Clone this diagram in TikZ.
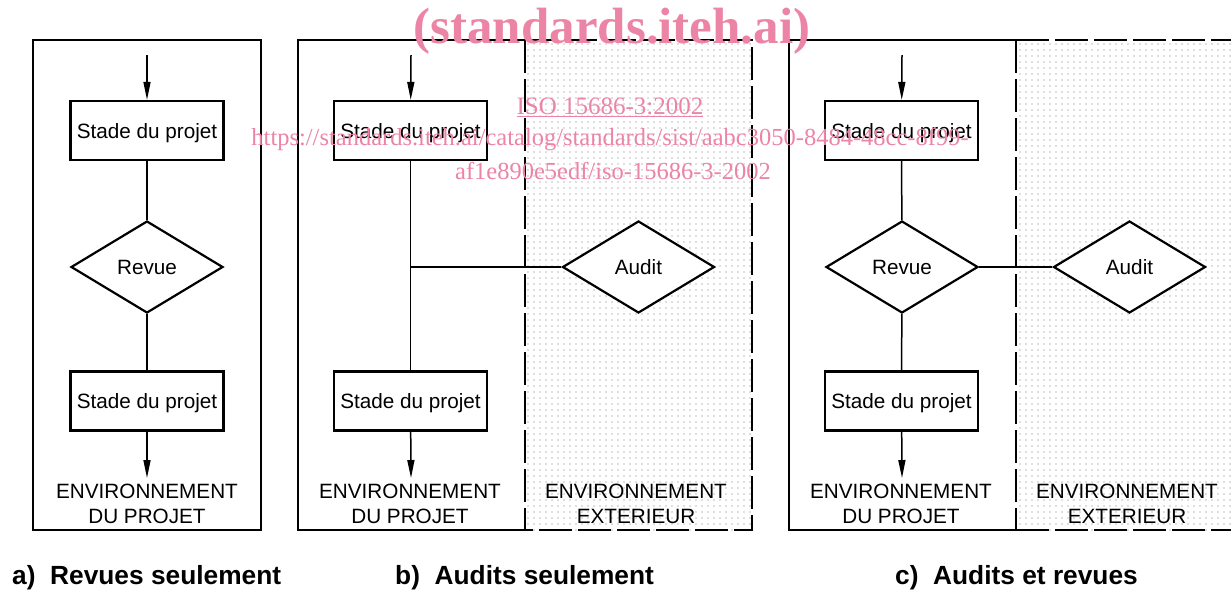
\documentclass[tikz,border=0pt]{standalone}
\usepackage{fontspec}
\setmainfont{Liberation Sans}
\newfontfamily\wmfont{Liberation Serif}
\usetikzlibrary{arrows.meta,shapes.geometric,patterns.meta}
\definecolor{wmpink}{RGB}{236,132,166}
\tikzset{
  frame/.style={line width=2.4pt},
  dashframe/.style={line width=2.4pt,dash pattern=on 33pt off 6pt},
  stagebox/.style={draw,line width=2.2pt,fill=white,minimum width=153pt,minimum height=59pt,inner sep=0pt,text depth=0pt,font=\fontsize{20.7}{25}\selectfont},
  decision/.style={draw,diamond,line width=2.2pt,fill=white,aspect=1.65,minimum width=152pt,minimum height=92pt,inner sep=0pt,font=\fontsize{20.7}{25}\selectfont},
  conn/.style={line width=1.5pt},
  arr/.style={line width=1.5pt,-{Triangle[length=18pt,width=7pt]}},
  envtext/.style={align=center,font=\fontsize{20.7}{25}\selectfont,inner sep=0pt},
  caption/.style={anchor=west,inner sep=0pt,font=\fontsize{26.3}{30}\selectfont\bfseries},
  dotfill/.style={pattern={Dots[distance=6pt,radius=0.7pt]},pattern color=black!55}
}
\begin{document}
\begin{tikzpicture}[x=1pt,y=-1pt]
\useasboundingbox (0,0) rectangle (1231,590);
% ---------- dotted regions ----------
\fill[dotfill] (525,40) rectangle (752,530);
\fill[dotfill] (1016,40) rectangle (1240,530);
% ---------- frames ----------
\draw[frame] (33,40) rectangle (261,530);
\draw[frame] (525,40) -- (298,40) -- (298,530) -- (525,530);
\draw[dashframe] (525,40) -- (752,40) -- (752,530) -- (525,530);
\draw[dashframe] (525,40) -- (525,530);
\draw[frame] (1016,40) -- (789,40) -- (789,530) -- (1016,530);
\draw[dashframe] (1016,40) -- (1240,40);
\draw[dashframe] (1016,530) -- (1240,530);
\draw[dashframe] (1016,40) -- (1016,530);
% ---------- panel a ----------
\coordinate (ain) at (147,55);
\node[stagebox] (a1) at (147,130.5) {Stade du projet};
\node[decision] (arev) at (147,267) {Revue};
\node[stagebox] (a2) at (147,401) {Stade du projet};
\coordinate (aout) at (147,478);
\draw[arr] (ain) -- (a1);
\draw[conn] (a1) -- (arev);
\draw[conn] (arev) -- (a2);
\draw[arr] (a2) -- (aout);
\node[envtext] (aenv) at (147,504) {ENVIRONNEMENT\\DU PROJET};
% ---------- panel b ----------
\coordinate (bin) at (411,55);
\node[stagebox] (b1) at (410.5,130.5) {Stade du projet};
\node[stagebox] (b2) at (410.5,401) {Stade du projet};
\node[decision] (baud) at (638.5,267) {Audit};
\coordinate (bout) at (411,478);
\coordinate (bjoin) at (411,267);
\draw[arr] (bin) -- (b1);
\draw[conn] (b1) -- (b2);
\draw[conn] (bjoin) -- (baud);
\draw[arr] (b2) -- (bout);
\node[envtext] (benv) at (410,504) {ENVIRONNEMENT\\DU PROJET};
\node[envtext] (bext) at (636,504) {ENVIRONNEMENT\\EXTERIEUR};
% ---------- panel c ----------
\coordinate (cin) at (902,55);
\node[stagebox] (c1) at (901.5,130.5) {Stade du projet};
\node[decision] (crev) at (902,267) {Revue};
\node[decision] (caud) at (1129.5,267) {Audit};
\node[stagebox] (c2) at (901.5,401) {Stade du projet};
\coordinate (cout) at (902,478);
\draw[arr] (cin) -- (c1);
\draw[conn] (c1) -- (crev);
\draw[conn] (crev) -- (c2);
\draw[conn] (crev) -- (caud);
\draw[arr] (c2) -- (cout);
\node[envtext] (cenv) at (901,504) {ENVIRONNEMENT\\DU PROJET};
\node[envtext] (cext) at (1127,504) {ENVIRONNEMENT\\EXTERIEUR};
% ---------- captions ----------
\node[caption] (capa) at (12,577.5) {a)\ \ Revues seulement};
\node[caption] (capb) at (395,577.5) {b)\ \ Audits seulement};
\node[caption] (capc) at (895,577.5) {c)\ \ Audits et revues};
% ---------- watermark ----------
\node[inner sep=0pt,text=wmpink,font=\wmfont\fontsize{51}{55}\selectfont\bfseries] (wm1) at (612,31) {(standards.iteh.ai)};
\node[inner sep=0pt,text=wmpink,font=\wmfont\fontsize{25}{28}\selectfont] (wm2) at (610,107) {\underline{ISO 15686-3:2002}};
\node[inner sep=0pt,text=wmpink,font=\wmfont\fontsize{24.5}{28}\selectfont] (wm3) at (610,140) {https://standards.iteh.ai/catalog/standards/sist/aabc3050-8484-48cc-8f99-};
\node[inner sep=0pt,text=wmpink,font=\wmfont\fontsize{24.5}{28}\selectfont] (wm4) at (613,171) {af1e890e5edf/iso-15686-3-2002};
\end{tikzpicture}
\end{document}
